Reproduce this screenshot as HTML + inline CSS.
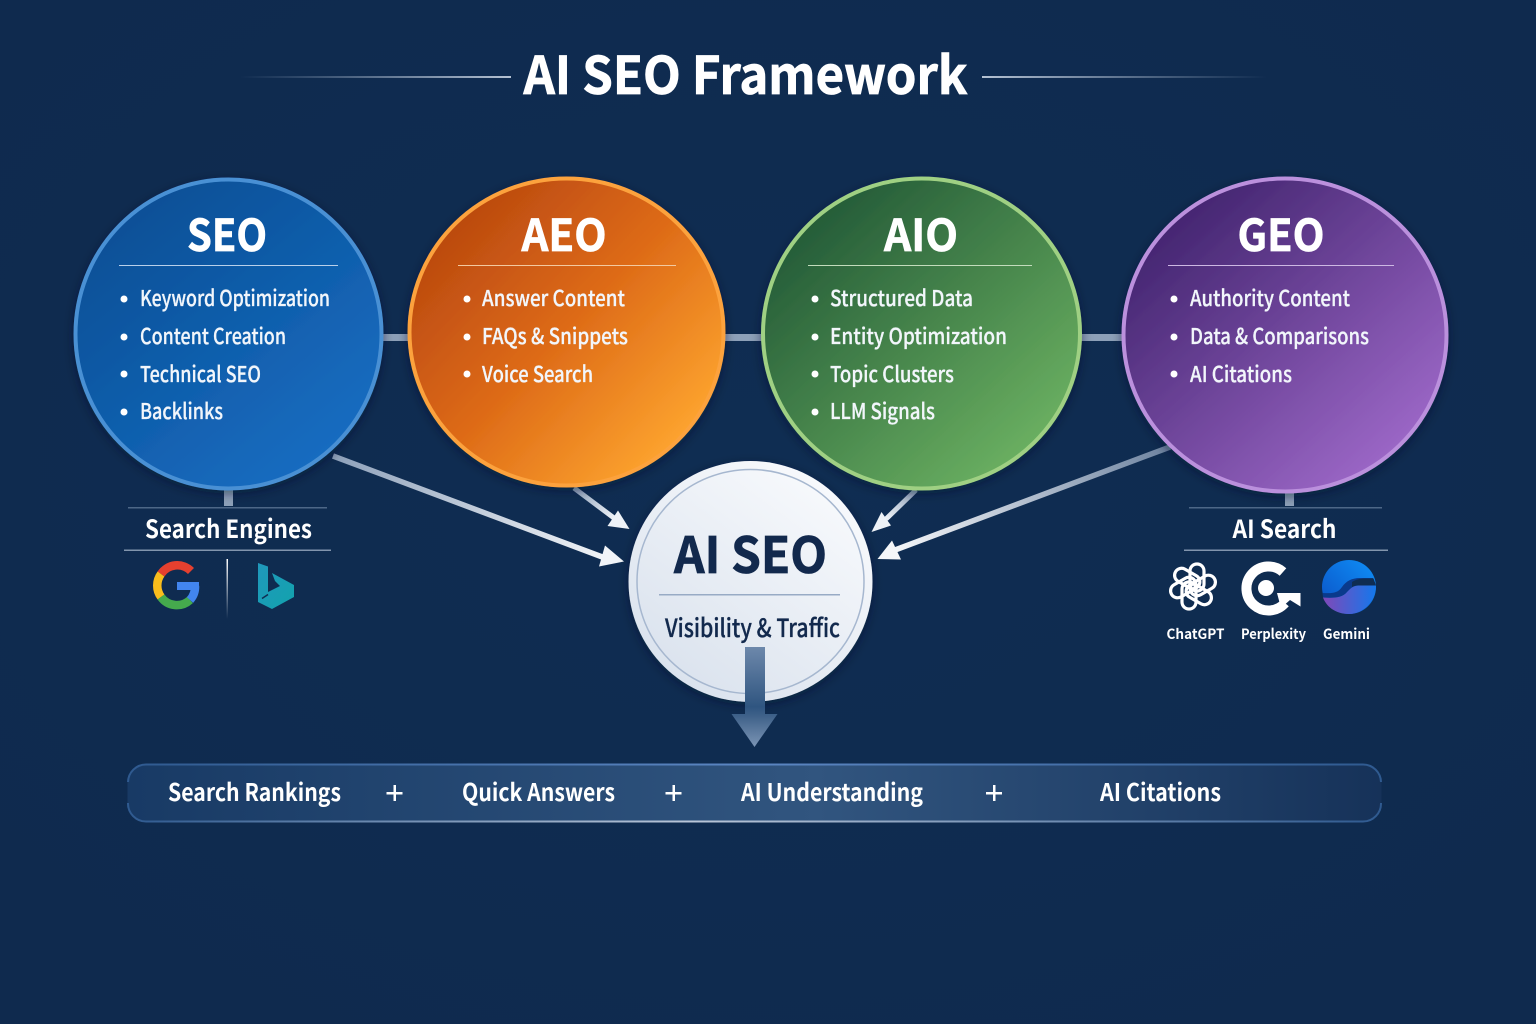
<!DOCTYPE html>
<html lang="en"><head><meta charset="utf-8"><title>AI SEO Framework</title>
<style>
html,body{margin:0;padding:0;background:#0f2b50}
svg{display:block}
text{font-family:"Noto Sans CJK SC","Liberation Sans",sans-serif;fill:#fff}
.h{font-size:44px;font-weight:700;text-anchor:middle;stroke:#fff;stroke-width:.7}
.li{font-size:22px;font-weight:500;fill:#f2f6fb;stroke:#f2f6fb;stroke-width:.25}
.sub{font-size:25px;font-weight:700;text-anchor:middle}
.bar{font-size:24px;font-weight:700}
.cap{font-size:14px;font-weight:700;text-anchor:middle}
</style></head><body>
<svg width="1536" height="1024" viewBox="0 0 1536 1024" xmlns="http://www.w3.org/2000/svg">
<defs>
<radialGradient id="bg" cx="50%" cy="45%" r="70%"><stop offset="0" stop-color="#0f2d52"/><stop offset="1" stop-color="#0f2a4e"/></radialGradient>
<linearGradient id="seo" x1="0.15" y1="0.1" x2="0.8" y2="0.9"><stop offset="0" stop-color="#074f96"/><stop offset="1" stop-color="#186cc0"/></linearGradient>
<linearGradient id="aeo" x1="0.1" y1="0.15" x2="0.85" y2="0.85"><stop offset="0" stop-color="#b9480f"/><stop offset="0.5" stop-color="#dd6a17"/><stop offset="1" stop-color="#fca22e"/></linearGradient>
<linearGradient id="aio" x1="0.15" y1="0.1" x2="0.85" y2="0.85"><stop offset="0" stop-color="#235a37"/><stop offset="1" stop-color="#69ae60"/></linearGradient>
<linearGradient id="geo" x1="0.15" y1="0.1" x2="0.85" y2="0.85"><stop offset="0" stop-color="#42246f"/><stop offset="1" stop-color="#9a66c5"/></linearGradient>
<linearGradient id="core" x1="0.8" y1="0.1" x2="0.2" y2="0.9"><stop offset="0" stop-color="#f7f9fc"/><stop offset="1" stop-color="#dbe3ee"/></linearGradient>
<linearGradient id="tl" x1="0" x2="1"><stop offset="0" stop-color="#9fb0c6" stop-opacity="0"/><stop offset="1" stop-color="#b5c2d3"/></linearGradient>
<linearGradient id="tr" x1="0" x2="1"><stop offset="0" stop-color="#b5c2d3"/><stop offset="1" stop-color="#9fb0c6" stop-opacity="0"/></linearGradient>
<linearGradient id="down" x1="0" y1="0" x2="0" y2="1"><stop offset="0" stop-color="#6d88ab"/><stop offset="0.6" stop-color="#2f5580"/><stop offset="0.68" stop-color="#3d6088"/><stop offset="1" stop-color="#7c95b5"/></linearGradient>
<linearGradient id="barfill" x1="0" x2="1"><stop offset="0" stop-color="#183a65"/><stop offset="0.55" stop-color="#31557f"/><stop offset="1" stop-color="#163259"/></linearGradient>
<linearGradient id="bartop" x1="0" x2="1"><stop offset="0" stop-color="#2f5a90"/><stop offset="0.5" stop-color="#5b86c2"/><stop offset="1" stop-color="#2f5a90"/></linearGradient>
<linearGradient id="barbot" x1="0" x2="1"><stop offset="0" stop-color="#2f5a90"/><stop offset="0.45" stop-color="#b9c6d8"/><stop offset="1" stop-color="#2f5a90"/></linearGradient>
<linearGradient id="a1" gradientUnits="userSpaceOnUse" x1="333" y1="456" x2="605" y2="558"><stop offset="0" stop-color="#8ea1ba"/><stop offset="1" stop-color="#f1f4f8"/></linearGradient>
<linearGradient id="a2" gradientUnits="userSpaceOnUse" x1="574" y1="488" x2="614" y2="518"><stop offset="0" stop-color="#8ea1ba"/><stop offset="1" stop-color="#eef2f7"/></linearGradient>
<linearGradient id="a3" gradientUnits="userSpaceOnUse" x1="916" y1="490" x2="886" y2="519"><stop offset="0" stop-color="#8ea1ba"/><stop offset="1" stop-color="#eef2f7"/></linearGradient>
<linearGradient id="a4" gradientUnits="userSpaceOnUse" x1="1170" y1="447" x2="895" y2="550"><stop offset="0" stop-color="#6d83a0"/><stop offset="1" stop-color="#f4f6f9"/></linearGradient>
<linearGradient id="vsep" x1="0" y1="0" x2="0" y2="1"><stop offset="0" stop-color="#fff"/><stop offset="1" stop-color="#fff" stop-opacity="0"/></linearGradient>
<linearGradient id="gem" x1="0" y1="1" x2="1" y2="0"><stop offset="0" stop-color="#0a50c4"/><stop offset="1" stop-color="#0f90f8"/></linearGradient>
<linearGradient id="gem2" x1="0" x2="1"><stop offset="0" stop-color="#8048b8"/><stop offset="1" stop-color="#1478ec"/></linearGradient>
<linearGradient id="bing" x1="0" y1="0" x2="1" y2="1"><stop offset="0" stop-color="#2098bc"/><stop offset="1" stop-color="#12a3ad"/></linearGradient>
<filter id="sh" x="-20%" y="-20%" width="140%" height="140%"><feDropShadow dx="0" dy="3" stdDeviation="5" flood-color="#06152c" flood-opacity="0.5"/></filter>
</defs>
<rect width="1536" height="1024" fill="url(#bg)"/>

<rect x="240" y="76" width="271" height="2" fill="url(#tl)"/>
<rect x="982" y="76" width="285" height="2" fill="url(#tr)"/>
<text x="745.500" y="94" text-anchor="middle" font-size="52" font-weight="700" stroke="#fff" stroke-width=".8" textLength="444" lengthAdjust="spacingAndGlyphs">AI SEO Framework</text>

<!-- connectors -->
<rect x="380" y="334" width="32" height="7" fill="#8da0b8"/>
<rect x="722" y="334" width="44" height="7" fill="#8da0b8"/>
<rect x="1078" y="334" width="48" height="7" fill="#8da0b8"/>
<rect x="224" y="488" width="9" height="18" fill="#8da0b8"/>
<rect x="1285" y="490" width="9" height="16" fill="#8da0b8"/>

<!-- arrows -->
<line x1="333" y1="456" x2="605" y2="558" stroke="url(#a1)" stroke-width="5.500"/>
<path d="M624 561.500L605 545.500L599 566.500Z" fill="#f1f4f8"/>
<line x1="574" y1="488" x2="614" y2="518" stroke="url(#a2)" stroke-width="5"/>
<path d="M629.500 529L618 510.500L607.500 526Z" fill="#eef2f7"/>
<line x1="916" y1="490" x2="886" y2="519" stroke="url(#a3)" stroke-width="5"/>
<path d="M871.500 532L891 525.500L881.500 512Z" fill="#eef2f7"/>
<line x1="1170" y1="447" x2="895" y2="550" stroke="url(#a4)" stroke-width="5.500"/>
<path d="M877.500 559L892 540.500L901 559.500Z" fill="#f4f6f9"/>

<!-- circles -->
<ellipse cx="228.500" cy="334" rx="153" ry="154.500" fill="url(#seo)" stroke="#4a90d4" stroke-width="4" filter="url(#sh)"/>
<ellipse cx="566.500" cy="332" rx="157" ry="153.500" fill="url(#aeo)" stroke="#fca23e" stroke-width="4" filter="url(#sh)"/>
<ellipse cx="921.500" cy="333.500" rx="158.500" ry="155" fill="url(#aio)" stroke="#9fd083" stroke-width="4" filter="url(#sh)"/>
<ellipse cx="1285" cy="335" rx="161.500" ry="156.500" fill="url(#geo)" stroke="#bb90dd" stroke-width="4" filter="url(#sh)"/>

<!-- SEO -->
<text class="h" x="227" y="251" textLength="80" lengthAdjust="spacingAndGlyphs">SEO</text>
<rect x="119" y="265" width="219" height="1" fill="#b9d0ea"/>
<g fill="#fff"><circle cx="124" cy="299" r="3.500"/><circle cx="124" cy="337" r="3.500"/><circle cx="124" cy="374" r="3.500"/><circle cx="124" cy="412" r="3.500"/></g>
<text class="li" x="140" y="306" textLength="190" lengthAdjust="spacingAndGlyphs">Keyword Optimization</text>
<text class="li" x="140" y="344" textLength="146" lengthAdjust="spacingAndGlyphs">Content Creation</text>
<text class="li" x="140" y="382" textLength="121" lengthAdjust="spacingAndGlyphs">Technical SEO</text>
<text class="li" x="140" y="419" textLength="83" lengthAdjust="spacingAndGlyphs">Backlinks</text>

<!-- AEO -->
<text class="h" x="564" y="251" textLength="85" lengthAdjust="spacingAndGlyphs">AEO</text>
<rect x="458" y="265" width="218" height="1" fill="#f3c9a0"/>
<g fill="#fff"><circle cx="467" cy="299" r="3.500"/><circle cx="467" cy="337" r="3.500"/><circle cx="467" cy="374" r="3.500"/></g>
<text class="li" x="482" y="306" textLength="143" lengthAdjust="spacingAndGlyphs">Answer Content</text>
<text class="li" x="482" y="344" textLength="146" lengthAdjust="spacingAndGlyphs">FAQs &amp; Snippets</text>
<text class="li" x="482" y="382" textLength="111" lengthAdjust="spacingAndGlyphs">Voice Search</text>

<!-- AIO -->
<text class="h" x="921" y="251" textLength="74" lengthAdjust="spacingAndGlyphs">AIO</text>
<rect x="808" y="265" width="224" height="1" fill="#c3dcbc"/>
<g fill="#fff"><circle cx="815" cy="299" r="3.500"/><circle cx="815" cy="337" r="3.500"/><circle cx="815" cy="374" r="3.500"/><circle cx="815" cy="412" r="3.500"/></g>
<text class="li" x="830" y="306" textLength="143" lengthAdjust="spacingAndGlyphs">Structured Data</text>
<text class="li" x="830" y="344" textLength="177" lengthAdjust="spacingAndGlyphs">Entity Optimization</text>
<text class="li" x="830" y="382" textLength="124" lengthAdjust="spacingAndGlyphs">Topic Clusters</text>
<text class="li" x="830" y="419" textLength="105" lengthAdjust="spacingAndGlyphs">LLM Signals</text>

<!-- GEO -->
<text class="h" x="1281" y="251" textLength="87" lengthAdjust="spacingAndGlyphs">GEO</text>
<rect x="1168" y="265" width="226" height="1" fill="#cdb8e3"/>
<g fill="#fff"><circle cx="1174" cy="299" r="3.500"/><circle cx="1174" cy="337" r="3.500"/><circle cx="1174" cy="374" r="3.500"/></g>
<text class="li" x="1190" y="306" textLength="160" lengthAdjust="spacingAndGlyphs">Authority Content</text>
<text class="li" x="1190" y="344" textLength="179" lengthAdjust="spacingAndGlyphs">Data &amp; Comparisons</text>
<text class="li" x="1190" y="382" textLength="102" lengthAdjust="spacingAndGlyphs">AI Citations</text>

<!-- core -->
<ellipse cx="750.500" cy="581.500" rx="122" ry="120.500" fill="url(#core)" filter="url(#sh)"/>
<ellipse cx="750.500" cy="581.500" rx="113.500" ry="112" fill="none" stroke="#a6b7cf" stroke-width="1.500"/>
<text x="750.500" y="573" text-anchor="middle" font-size="50" font-weight="700" stroke="#12294d" stroke-width=".8" style="fill:#12294d" textLength="153" lengthAdjust="spacingAndGlyphs">AI SEO</text>
<rect x="659" y="594" width="181" height="1.500" fill="#98abc5"/>
<text x="752.500" y="637" text-anchor="middle" font-size="25" font-weight="500" stroke="#12294d" stroke-width=".3" style="fill:#12294d" textLength="175" lengthAdjust="spacingAndGlyphs">Visibility &amp; Traffic</text>

<!-- down arrow -->
<path d="M745 647H765V714H777.500L754.500 747L731.500 714H745Z" fill="url(#down)"/>

<!-- left panel -->
<rect x="128" y="507" width="199" height="1.500" fill="#4d6787"/>
<rect x="124" y="549.500" width="207" height="1.500" fill="#8295ad"/>
<text class="sub" x="228.500" y="538" textLength="167" lengthAdjust="spacingAndGlyphs">Search Engines</text>
<g fill="none" stroke-width="8.500">
<path d="M191 571A19.500 19.500 0 0 0 161 574" stroke="#e5402f"/>
<path d="M161 574A19.500 19.500 0 0 0 161 597" stroke="#f9bd1c"/>
<path d="M161 597A19.500 19.500 0 0 0 190 600" stroke="#45aa4d"/>
<path d="M190 600A19.500 19.500 0 0 0 195 586" stroke="#4285ee"/>
</g>
<rect x="177" y="582" width="22" height="8" fill="#4285ee"/>
<rect x="226.500" y="559" width="1.500" height="60" fill="url(#vsep)"/>
<path d="M258 563L268 566.500V592L280 586L275 581L272 573L294 585V597L272 609L258 602Z" fill="url(#bing)"/>
<path d="M262 598.500L268 594.500" stroke="#0f2d52" stroke-width="1.500"/>

<!-- right panel -->
<rect x="1189" y="507" width="193" height="1.500" fill="#4d6787"/>
<rect x="1184" y="549.500" width="204" height="1.500" fill="#8295ad"/>
<text class="sub" x="1284.500" y="538" textLength="104" lengthAdjust="spacingAndGlyphs">AI Search</text>

<!-- ChatGPT knot -->
<g fill="none" stroke="#fff" stroke-width="3.200" transform="translate(1193 586.500)">
<rect x="-3" y="-22.500" width="14" height="27" rx="7"/>
<rect x="-3" y="-22.500" width="14" height="27" rx="7" transform="rotate(60)"/>
<rect x="-3" y="-22.500" width="14" height="27" rx="7" transform="rotate(120)"/>
<rect x="-3" y="-22.500" width="14" height="27" rx="7" transform="rotate(180)"/>
<rect x="-3" y="-22.500" width="14" height="27" rx="7" transform="rotate(240)"/>
<rect x="-3" y="-22.500" width="14" height="27" rx="7" transform="rotate(300)"/>
</g>
<!-- Perplexity -->
<path d="M1285 603A22 22 0 1 1 1283 572" fill="none" stroke="#fff" stroke-width="10"/>
<path d="M1277 593H1300.500V606.500L1290 600L1281 608Z" fill="#fff"/>
<circle cx="1266" cy="588" r="8" fill="#fff"/>
<!-- Gemini -->
<circle cx="1349" cy="587" r="27" fill="url(#gem)"/>
<path d="M1323 597.500C1334 598 1342 598 1347 592C1351 587 1354 585.500 1360 585.500H1376C1376 600 1364 614 1349 614C1335 614 1326 606 1323 597.500Z" fill="url(#gem2)"/>
<path d="M1322.500 593C1333 593.500 1338 593 1342 587C1346 581 1352 578 1360 578H1373L1376 585.500H1358C1353 585.500 1350 589 1347 592C1342 598 1334 598 1323 597.500Z" fill="#0a3a8c"/>
<path d="M1352 582C1356 579.500 1360 578.500 1366 578.500H1373.500L1376 585.500H1358C1356 585.500 1354 586 1352 587Z" fill="#0f2d52"/>
<text class="cap" x="1195.500" y="639" textLength="58" lengthAdjust="spacingAndGlyphs">ChatGPT</text>
<text class="cap" x="1273.500" y="639" textLength="65" lengthAdjust="spacingAndGlyphs">Perplexity</text>
<text class="cap" x="1346.500" y="639" textLength="47" lengthAdjust="spacingAndGlyphs">Gemini</text>

<!-- bottom bar -->
<rect x="127.500" y="764" width="1254" height="58" rx="18" fill="url(#barfill)"/>
<path d="M128 782A18 18 0 0 1 146 764.500H1363A18 18 0 0 1 1381 782" fill="none" stroke="url(#bartop)" stroke-width="2"/>
<path d="M128 803A18 18 0 0 0 146 821.500H1363A18 18 0 0 0 1381 803" fill="none" stroke="url(#barbot)" stroke-width="2"/>
<text class="bar" x="168" y="801" textLength="173" lengthAdjust="spacingAndGlyphs">Search Rankings</text>
<text class="bar" x="462" y="801" textLength="153" lengthAdjust="spacingAndGlyphs">Quick Answers</text>
<text class="bar" x="741" y="801" textLength="182" lengthAdjust="spacingAndGlyphs">AI Understanding</text>
<text class="bar" x="1100" y="801" textLength="121" lengthAdjust="spacingAndGlyphs">AI Citations</text>
<g fill="#fff">
<rect x="386.500" y="792" width="16" height="2.500"/><rect x="393.500" y="785" width="2.500" height="16"/>
<rect x="665.500" y="792" width="16" height="2.500"/><rect x="672.500" y="785" width="2.500" height="16"/>
<rect x="986" y="792" width="16" height="2.500"/><rect x="993" y="785" width="2.500" height="16"/>
</g>
</svg>
</body></html>
